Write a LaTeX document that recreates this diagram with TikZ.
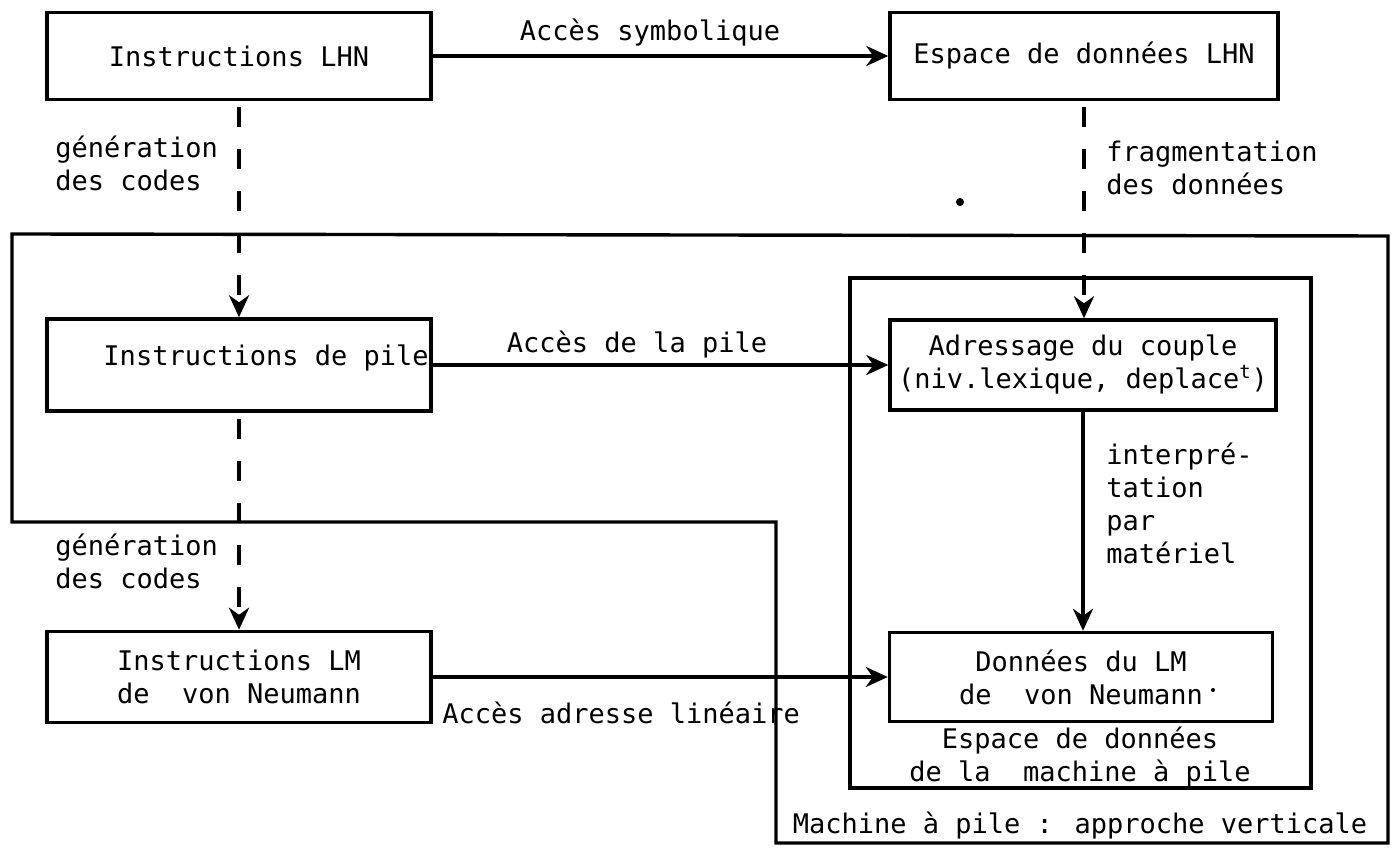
\documentclass[tikz,border=0pt]{standalone}
\usepackage{fontspec}
\setmainfont{DejaVu Sans Mono}
\usetikzlibrary{arrows.meta}
\begin{document}
\begin{tikzpicture}[x=0.5pt,y=-0.5pt,
  font=\fontsize{13.5}{16.5}\selectfont,
  box/.style={draw,line width=1.7pt,inner sep=0pt,align=center},
  conn/.style={line width=1.6pt,-{Stealth[length=11pt,width=10pt,inset=3.5pt]}},
  dconn/.style={conn,line width=2.2pt,dash pattern=on 10pt off 11pt,dash phase=-3pt},
  lbl/.style={inner sep=0pt,align=left},
  clbl/.style={inner sep=0pt,align=center}]
\useasboundingbox (0,0) rectangle (1394,849);

% outer region: stack machine, vertical approach
\draw[line width=1.7pt] (12,234) -- (1388,236) -- (1388,843) -- (776,843)
  -- (776,522) -- (12,522) -- cycle;
\node[clbl] (machine) at (1080,826) {Machine à pile : approche verticale};

% data space of the stack machine
\node[draw,line width=1.7pt,minimum width=230.5pt,minimum height=255pt,inner sep=0pt]
  (espace) at (1080.5,533) {};
\node[clbl] (espacelbl) at (1080,757) {Espace de données\\de la~~machine à pile};

% boxes
\node[box,minimum width=192pt,minimum height=43.5pt] (lhn) at (239,56) {Instructions LHN};
\node[box,minimum width=194pt,minimum height=43.5pt] (dlhn) at (1084,56) {Espace de données LHN};
\node[box,minimum width=192pt,minimum height=46pt] (pile) at (239,365) {};
\node[lbl,anchor=east] (piletxt) at (429,358) {Instructions de pile};
\node[box,minimum width=193pt,minimum height=45pt] (couple) at (1083,365)
  {Adressage du couple\\(niv.lexique, deplace\textsuperscript{t})};
\node[box,minimum width=192pt,minimum height=45.5pt] (lm) at (239,677)
  {Instructions LM\\de~~von Neumann};
\node[box,minimum width=191.5pt,minimum height=44.5pt] (dlm) at (1081,677)
  {Données du LM\\de~~von Neumann};

% connectors
\draw[conn] (lhn.east) -- (dlhn.west);
\node[clbl] (l1) at (650,33) {Accès symbolique};

\draw[dconn] (lhn.south) -- (pile.north);
\node[lbl,anchor=west] (l2) at (55,163) {génération\\des codes};

\draw[dconn] (dlhn.south) -- (dlhn.south |- couple.north);
\node[lbl,anchor=west] (l3) at (1106,168) {fragmentation\\des données};

\draw[conn] (pile.east) -- (couple.west);
\node[clbl] (l4) at (637,345) {Accès de la pile};

\draw[conn] (couple.south) -- (couple.south |- dlm.north);
\node[lbl,anchor=west] (l5) at (1106,503) {interpré-\\tation\\par\\matériel};

\draw[dconn] (pile.south) -- (lm.north);
\node[lbl,anchor=west] (l6) at (55,561) {génération\\des codes};

\draw[conn] (lm.east) -- (dlm.west);
\node[lbl,anchor=west] (l7) at (442,713) {Accès adresse linéaire};

% stray marks
\fill (960,202) circle (2pt);
\fill (1213,690) circle (1pt);
\end{tikzpicture}
\end{document}
